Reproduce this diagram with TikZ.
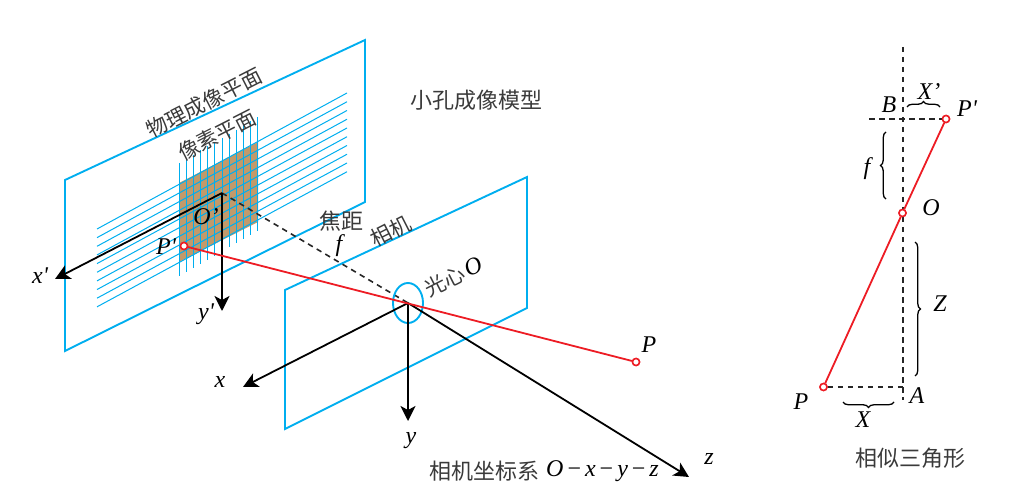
\documentclass[tikz,border=0pt]{standalone}
\usepackage{fontspec}
\setmainfont{Liberation Serif}
\newfontfamily\cjk{Noto Sans CJK SC}
\usetikzlibrary{arrows.meta,decorations.pathreplacing}
\definecolor{planeblue}{HTML}{00AEEF}
\definecolor{rayred}{HTML}{ED1C24}
\definecolor{pixbrown}{HTML}{C19A6B}
\definecolor{cjkgray}{HTML}{3A3A3A}
\newcommand{\sq}{\textquotesingle}
\tikzset{
 planeedge/.style={draw=planeblue,line width=1.9pt},
 gridline/.style={draw=planeblue,line width=1pt},
 axisarrow/.style={draw=black,line width=1.8pt,-{Stealth[length=15pt,width=15pt,inset=4pt]}},
 rayline/.style={draw=rayred,line width=1.8pt},
 guide/.style={draw=black!85,line width=1.6pt,dash pattern=on 5.5pt off 4.5pt},
 holept/.style={circle,draw=rayred,fill=white,line width=1.5pt,inner sep=0pt,minimum size=7pt},
 cjklabel/.style={inner sep=0pt,text=cjkgray,font=\cjk\fontsize{22}{24}\selectfont},
 cjktilt/.style={cjklabel,rotate=27,font=\cjk\fontsize{21}{23}\selectfont},
 mathlabel/.style={inner sep=0pt,font=\fontsize{24}{26}\selectfont\itshape},
 bracemark/.style={draw=black,line width=1.3pt,decorate,decoration={brace,amplitude=5.5pt}}
}
\begin{document}
\begin{tikzpicture}[x=1pt,y=-1pt]
\useasboundingbox (0,0) rectangle (1015,489);
% planes
\draw[planeedge] (65,180) -- (365,40) -- (365,202) -- (65,351) -- cycle;
\draw[planeedge] (285,290) -- (527,177) -- (527,308) -- (285,429) -- cycle;
% sensor
\fill[pixbrown] (179,183) -- (258,142) -- (258,222) -- (179,262) -- cycle;
\foreach \i in {0,...,9}{
  \draw[gridline] (97,229+\i*8.65) -- (347,93+\i*8.75);
}
\foreach \i in {0,...,11}{
  \draw[gridline] (179+\i*7.18,163-\i*4.18) -- (179+\i*7.18,276-\i*4.09);
}
% key points
\coordinate (Oimg) at (222,193);
\coordinate (Ocam) at (408,303);
\coordinate (xpend) at (55,279);
\coordinate (ypend) at (222,311);
\coordinate (xend) at (243,387);
\coordinate (yend) at (408,421);
\coordinate (zend) at (689,477);
\node[holept] (Pimg) at (184,246) {};
\node[holept] (Pobj) at (636,362) {};
% dashed focal axis
\draw[guide] (Oimg) -- (Ocam);
% aperture
\draw[draw=planeblue,line width=1.9pt] (Ocam) ellipse [x radius=15pt,y radius=20pt];
% axes
\draw[axisarrow] (Oimg) -- (xpend);
\draw[axisarrow] (Oimg) -- (ypend);
\draw[axisarrow] (Ocam) -- (xend);
\draw[axisarrow] (Ocam) -- (yend);
\draw[axisarrow] (Ocam) -- (zend);
% ray
\draw[rayline] (Pimg) -- (Pobj);
\node[holept] at (Pimg) {};
\node[holept] at (Pobj) {};
% labels left
\node[cjktilt] (lphys) at (204,103) {物理成像平面};
\node[cjktilt] (lpix) at (217,135) {像素平面};
\node[cjklabel] (lmodel) at (476,100) {小孔成像模型};
\node[cjklabel] (lfocal) at (341,221) {焦距};
\node[mathlabel] (lf) at (339,246) {f};
\node[cjktilt] (lcam) at (391,231) {相机};
\node[cjktilt] (lcenter) at (445,281) {光心};
\node[mathlabel,rotate=27] (lcentero) at (473,267) {O};
\node[mathlabel] (lOp) at (206,217) {O'};
\node[mathlabel] (lPp) at (166,247) {P\sq};
\node[mathlabel] (lxp) at (40,276) {x\sq};
\node[mathlabel] (lyp) at (206,314) {y\sq};
\node[mathlabel] (lx) at (220,382) {x};
\node[mathlabel] (ly) at (411,441) {y};
\node[mathlabel] (lz) at (709,459) {z};
\node[mathlabel] (lP) at (649,345) {P};
\node[cjklabel,anchor=west] (lsys) at (429,471) {相机坐标系};
\node[mathlabel,anchor=west] (lsysm) at (546,471) {O\,{\upshape−}\,x\,{\upshape−}\,y\,{\upshape−}\,z};
% right diagram
\coordinate (Vtop) at (903,47);
\coordinate (Vbot) at (903,400);
\coordinate (Bleft) at (869,119);
\coordinate (Afoot) at (903,387);
\node[holept] (Rpp) at (946,119) {};
\node[holept] (Ro) at (902.5,213) {};
\node[holept] (Rp) at (823.5,387) {};
\draw[guide] (Vtop) -- (Vbot);
\draw[guide] (Bleft) -- (Rpp);
\draw[guide] (Rp) -- (Afoot);
\draw[rayline] (Rp) -- (Ro);
\draw[rayline] (Ro) -- (Rpp);
\node[holept] at (Ro) {};
\node[holept] at (Rpp) {};
\node[holept] at (Rp) {};
% braces
\coordinate (b1a) at (907,107); \coordinate (b1b) at (940,107);
\coordinate (b2a) at (886,199); \coordinate (b2b) at (886,132);
\coordinate (b3a) at (915,242); \coordinate (b3b) at (915,376);
\coordinate (b4a) at (894,402); \coordinate (b4b) at (843,402);
\draw[bracemark] (b1a) -- (b1b);
\draw[bracemark] (b2a) -- (b2b);
\draw[bracemark] (b3a) -- (b3b);
\draw[bracemark] (b4a) -- (b4b);
\node[mathlabel] (rB) at (889,105) {B};
\node[mathlabel] (rXp) at (929,92) {X'};
\node[mathlabel] (rPp) at (967,109) {P\sq};
\node[mathlabel] (rf) at (867,169) {f};
\node[mathlabel] (rO) at (931,208) {O};
\node[mathlabel] (rZ) at (940,304) {Z};
\node[mathlabel] (rP) at (801,402) {P};
\node[mathlabel] (rA) at (917,396) {A};
\node[mathlabel] (rX) at (863,420) {X};
\node[cjklabel] (rtitle) at (910,458) {相似三角形};
\end{tikzpicture}
\end{document}
